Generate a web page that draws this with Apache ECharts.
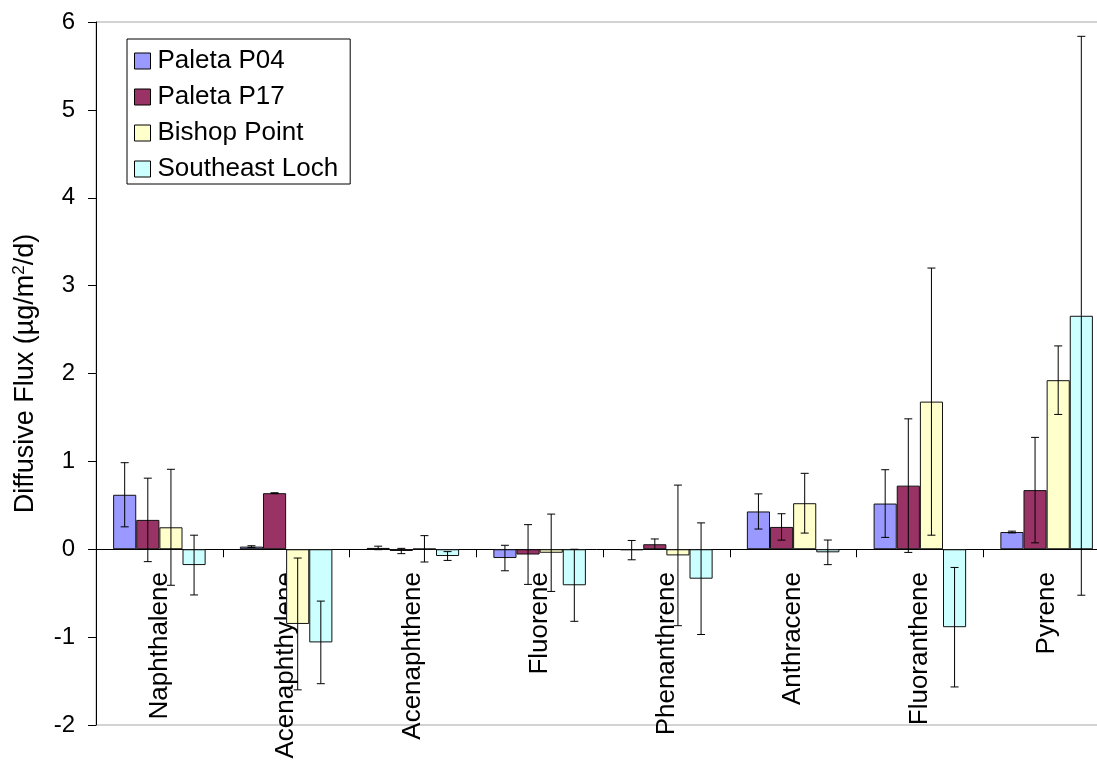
<!DOCTYPE html>
<html>
<head>
<meta charset="utf-8">
<script src="https://cdn.jsdelivr.net/npm/echarts@6/dist/echarts.min.js"></script>
<style>
html,body{margin:0;padding:0;background:#fff;}
#chart{width:1097px;height:767px;}
</style>
</head>
<body>
<div id="chart"></div>
<script>
const categories = ['Naphthalene','Acenaphthylene','Acenaphthene','Fluorene','Phenanthrene','Anthracene','Fluoranthene','Pyrene'];
const seriesNames = ['Paleta P04','Paleta P17','Bishop Point','Southeast Loch'];
const seriesColors = ['#9999FF','#993366','#FFFFCC','#CCFFFF'];

const paletaP04 = [0.62, 0.03, 0.015, -0.10, -0.01, 0.43, 0.52, 0.196];
const paletaP17 = [0.334, 0.638, -0.02, -0.06, 0.057, 0.254, 0.724, 0.673];
const bishopPoint = [0.25, -0.85, 0.005, -0.04, -0.07, 0.524, 1.68, 1.924];
const southeastLoch = [-0.18, -1.06, -0.077, -0.41, -0.335, -0.035, -0.887, 2.657];

const errP04 = [0.365, 0.01, 0.02, 0.145, 0.11, 0.2, 0.385, 0.01];
const errP17 = [0.475, 0.005, 0.03, 0.34, 0.06, 0.15, 0.76, 0.6];
const errBishop = [0.66, 0.75, 0.15, 0.44, 0.8, 0.34, 1.52, 0.39];
const errSELoch = [0.34, 0.47, 0.05, 0.41, 0.635, 0.14, 0.68, 3.18];

const yTicks = [-2, -1, 0, 1, 2, 3, 4, 5, 6];

const values = [paletaP04, paletaP17, bishopPoint, southeastLoch];
const errors = [errP04, errP17, errBishop, errSELoch];
const GAP = 0.27;
const FONT = '"Liberation Sans", Arial, sans-serif';

const errData = [];
values.forEach((arr, s) => arr.forEach((v, c) => errData.push([c, s, v, errors[s][c]])));

const chart = echarts.init(document.getElementById('chart'));
const series = seriesNames.map((name, i) => ({
  name: name,
  type: 'bar',
  data: values[i],
  barGap: '0%',
  barCategoryGap: (GAP * 100) + '%',
  itemStyle: { color: seriesColors[i], borderColor: '#111', borderWidth: 1 },
  emphasis: { disabled: true },
  z: 2
}));
series.push({
  type: 'custom',
  name: 'errors',
  data: errData,
  encode: { x: 0, y: 2 },
  z: 5,
  silent: true,
  clip: false,
  renderItem: function (params, api) {
    const c = api.value(0), s = api.value(1), v = api.value(2), e = api.value(3);
    const catW = api.size([1, 0])[0];
    const barW = catW * (1 - GAP) / 4;
    const cx = api.coord([c, 0])[0] + (s - 1.5) * barW;
    const yt = api.coord([c, v + e])[1];
    const yb = api.coord([c, v - e])[1];
    const cap = 4;
    const st = { stroke: '#000', lineWidth: 1 };
    return {
      type: 'group',
      children: [
        { type: 'line', shape: { x1: cx, y1: yt, x2: cx, y2: yb }, style: st },
        { type: 'line', shape: { x1: cx - cap, y1: yt, x2: cx + cap, y2: yt }, style: st },
        { type: 'line', shape: { x1: cx - cap, y1: yb, x2: cx + cap, y2: yb }, style: st }
      ]
    };
  }
});

chart.setOption({
  animation: false,
  backgroundColor: '#fff',
  textStyle: { fontFamily: FONT },
  grid: { left: 96, top: 22, bottom: 42, right: -13, show: true, borderColor: '#a6a6a6', borderWidth: 1,
          containLabel: false, outerBoundsMode: 'none' },
  legend: {
    data: seriesNames,
    orient: 'vertical',
    left: 127, top: 39,
    icon: 'rect',
    itemWidth: 16, itemHeight: 16,
    itemGap: 8,
    padding: [8, 12, 1, 7],
    borderColor: '#000', borderWidth: 1,
    backgroundColor: '#fff',
    selectedMode: false,
    textStyle: { fontFamily: FONT, fontSize: 26, color: '#000', lineHeight: 28, padding: [0, 0, 0, 2] },
    itemStyle: { borderColor: '#000', borderWidth: 1 }
  },
  xAxis: {
    type: 'category',
    data: categories,
    axisLine: { onZero: true, lineStyle: { color: '#000', width: 1 } },
    axisTick: { show: true, length: 8, lineStyle: { color: '#000' } },
    axisLabel: { rotate: 90, margin: -153, fontSize: 26, color: '#000', fontFamily: FONT, interval: 0 },
    splitLine: { show: false }
  },
  yAxis: {
    type: 'value',
    min: -2, max: 6, interval: 1,
    name: '{n|Diffusive Flux (µg/m}{sup|2}{n|/d)}',
    nameLocation: 'middle',
    nameGap: 56,
    nameRotate: 90,
    nameTextStyle: {
      fontSize: 27, color: '#000', fontFamily: FONT,
      rich: {
        n: { fontSize: 27, color: '#000', fontFamily: FONT },
        sup: { fontSize: 17, color: '#000', verticalAlign: 'top', padding: [0, 0, 12, 0], fontFamily: FONT }
      }
    },
    axisLine: { show: true, lineStyle: { color: '#000', width: 1 } },
    axisTick: { show: true, length: 8, lineStyle: { color: '#000' } },
    axisLabel: { margin: 21, fontSize: 24, color: '#000', fontFamily: FONT,
      formatter: function (v) { return yTicks.indexOf(v) >= 0 ? String(v) : ''; } },
    splitLine: { show: false }
  },
  series: series
});
</script>
</body>
</html>
